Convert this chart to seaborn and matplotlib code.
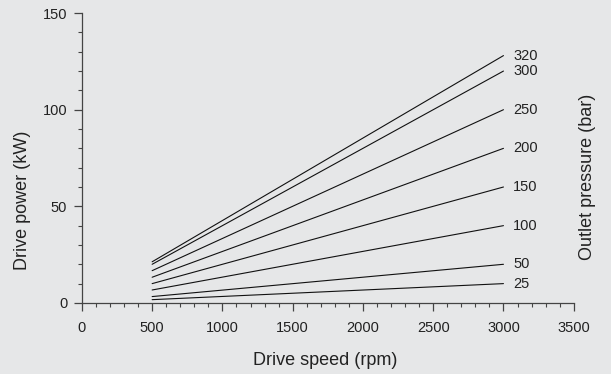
import pandas as pd
import matplotlib.pyplot as plt
import seaborn as sns
from matplotlib.ticker import MultipleLocator

# outlet pressure curves (bar), power read at 500 and 3000 rpm
pressure = [25, 50, 100, 150, 200, 250, 300, 320]
speed = [500, 3000]
power_500 = [1.7, 3.3, 6.7, 10.0, 13.3, 16.7, 20.0, 21.3]
power_3000 = [10, 20, 40, 60, 80, 100, 120, 128]

rows = []
for p, a, b in zip(pressure, power_500, power_3000):
    rows.append({"speed": speed[0], "power": a, "pressure": p})
    rows.append({"speed": speed[1], "power": b, "pressure": p})
df = pd.DataFrame(rows)

bg = "#e6e7e8"
sns.set_style("ticks", {"axes.facecolor": bg, "figure.facecolor": bg})
plt.rcParams["font.family"] = ["Liberation Sans", "DejaVu Sans"]

fig = plt.figure(figsize=(6.11, 3.74), dpi=100)
ax = fig.add_axes([0.134, 0.19, 0.805, 0.775])
sns.lineplot(data=df, x="speed", y="power", hue="pressure",
             palette=["#111111"] * len(pressure), linewidth=0.8,
             legend=False, ax=ax)

# pressure labels at line ends
for p, b in zip(pressure, power_3000):
    ax.text(3070, b, str(p), fontsize=10.5, va="center", ha="left", color="#222222")

ax.set_xlim(0, 3500)
ax.set_ylim(0, 150)
ax.xaxis.set_major_locator(MultipleLocator(500))
ax.xaxis.set_minor_locator(MultipleLocator(100))
ax.yaxis.set_major_locator(MultipleLocator(50))
ax.yaxis.set_minor_locator(MultipleLocator(10))
ax.tick_params(which="major", length=5.5, width=0.9, color="#444444", labelsize=10.5,
               labelcolor="#222222")
ax.tick_params(axis="x", which="major", pad=7.5)
ax.tick_params(axis="y", which="major", pad=5)
ax.tick_params(which="minor", length=3, width=0.8, color="#444444")
sns.despine(ax=ax)
for s in ["left", "bottom"]:
    ax.spines[s].set_color("#444444")
    ax.spines[s].set_linewidth(0.9)

ax.set_xlabel("Drive speed (rpm)", fontsize=13, color="#222222", va="center")
ax.xaxis.set_label_coords(0.494, -0.197)
ax.set_ylabel("Drive power (kW)", fontsize=13, color="#222222", va="center", ha="center")
ax.yaxis.set_label_coords(-0.121, 0.355)
fig.text(0.962, 0.527, "Outlet pressure (bar)", rotation=90, fontsize=13,
         color="#222222", ha="center", va="center")

fig.savefig("out.png", dpi=100, facecolor=bg)
